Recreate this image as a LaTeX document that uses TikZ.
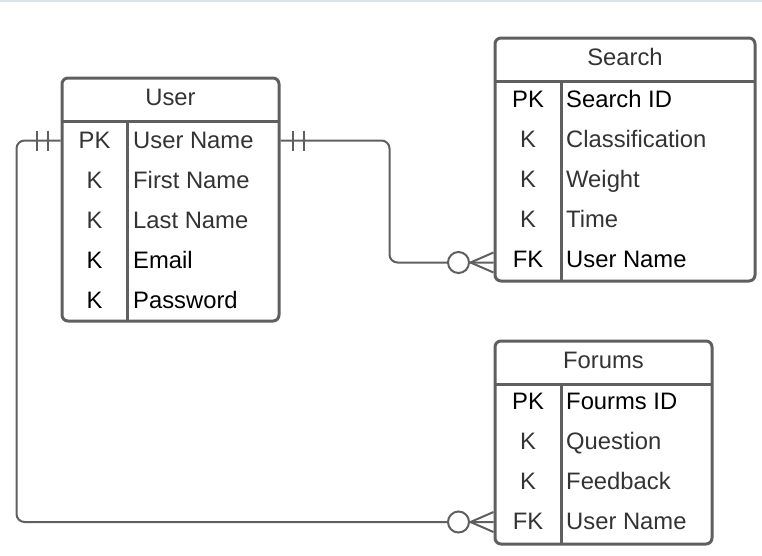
\documentclass[tikz,border=0pt]{standalone}
\usepackage{fontspec}
\setmainfont{Liberation Sans}
\definecolor{linegray}{HTML}{5F5F5F}
\definecolor{txtgray}{HTML}{333333}
\definecolor{topline}{HTML}{DDE3EA}
\tikzstyle{entity} = [draw=linegray, line width=3pt, rectangle, rounded corners=6pt, inner sep=0pt]
\tikzstyle{divider} = [draw=linegray, line width=3pt]
\tikzstyle{title} = [text=txtgray, inner sep=0pt, text height=17pt, text depth=0pt]
\tikzstyle{keyfield} = [inner sep=0pt, text height=17pt, text depth=0pt]
\tikzstyle{namefield} = [inner sep=0pt, anchor=west, text height=17pt, text depth=0pt]
\tikzstyle{link} = [draw=linegray, line width=2pt, rounded corners=8pt]
\tikzstyle{onebar} = [draw=linegray, line width=2pt]

\begin{document}
\begin{tikzpicture}[x=1pt, y=-1pt, font=\fontsize{23.8}{28}\selectfont]
		\useasboundingbox (0,0) rectangle (762,555);
		\fill[topline] (0,0) rectangle (762,2);

		% User
		\node[entity, minimum width=217pt, minimum height=243pt] (user) at (170.5,199.5) {};
		\node[title] (user-t) at (170.5,97) {User};
		\draw[divider] (62,121) -- (279,121);
		\draw[divider] (127,121) -- (127,321);
		\foreach \k/\t/\c [count=\i] in {PK/User Name/txtgray, K/First Name/txtgray, K/Last Name/txtgray, K/Email/black, K/Password/black}{
			\node[keyfield, text=\c] (u-k\i) at (94.5,99.5+40*\i) {\k};
			\node[namefield, text=\c] (u-n\i) at (133,99.5+40*\i) {\t};
		}

		% Search
		\node[entity, minimum width=260pt, minimum height=243pt] (search) at (625,159.5) {};
		\node[title] (search-t) at (625,57) {Search};
		\draw[divider] (495,81) -- (755,81);
		\draw[divider] (561,81) -- (561,281);
		\foreach \k/\t/\c [count=\i] in {PK/Search ID/black, K/Classification/txtgray, K/Weight/txtgray, K/Time/txtgray, FK/User Name/black}{
			\node[keyfield, text=\c] (s-k\i) at (528,58.5+40*\i) {\k};
			\node[namefield, text=\c] (s-n\i) at (566,58.5+40*\i) {\t};
		}

		% Forums
		\node[entity, minimum width=217pt, minimum height=203pt] (forums) at (603.5,442.5) {};
		\node[title] (forums-t) at (603.5,360) {Forums};
		\draw[divider] (495,384) -- (712,384);
		\draw[divider] (561,384) -- (561,544);
		\foreach \k/\t/\c [count=\i] in {PK/Fourms ID/black, K/Question/txtgray, K/Feedback/txtgray, FK/User Name/txtgray}{
			\node[keyfield, text=\c] (f-k\i) at (528,361+40*\i) {\k};
			\node[namefield, text=\c] (f-n\i) at (566,361+40*\i) {\t};
		}

		% User -> Forums
		\coordinate (a1) at ([yshift=-1pt]user.west |- u-k1);
		\coordinate (a2) at ([yshift=-1pt]forums.west |- f-k4);
		\draw[link] (a1) -- ++(-44,0) |- (a2);
		\draw[onebar] ([xshift=-13pt,yshift=10pt]a1) -- ([xshift=-13pt,yshift=-10pt]a1);
		\draw[onebar] ([xshift=-24pt,yshift=10pt]a1) -- ([xshift=-24pt,yshift=-10pt]a1);
		\draw[onebar] ([xshift=-23pt]a2) -- ([yshift=10pt]a2);
		\draw[onebar] ([xshift=-23pt]a2) -- ([yshift=-10pt]a2);
		\draw[onebar, fill=white] ([xshift=-35pt]a2) circle (10.5pt);

		% User -> Search
		\coordinate (b1) at ([yshift=-1pt]user.east |- u-k1);
		\coordinate (b2) at ([yshift=-4pt]search.west |- s-k5);
		\draw[link] (b1) -- ++(109,0) |- (b2);
		\draw[onebar] ([xshift=12pt,yshift=10pt]b1) -- ([xshift=12pt,yshift=-10pt]b1);
		\draw[onebar] ([xshift=23pt,yshift=10pt]b1) -- ([xshift=23pt,yshift=-10pt]b1);
		\draw[onebar] ([xshift=-23pt]b2) -- ([yshift=10pt]b2);
		\draw[onebar] ([xshift=-23pt]b2) -- ([yshift=-10pt]b2);
		\draw[onebar, fill=white] ([xshift=-35pt]b2) circle (10.5pt);
	\end{tikzpicture}
\end{document}
